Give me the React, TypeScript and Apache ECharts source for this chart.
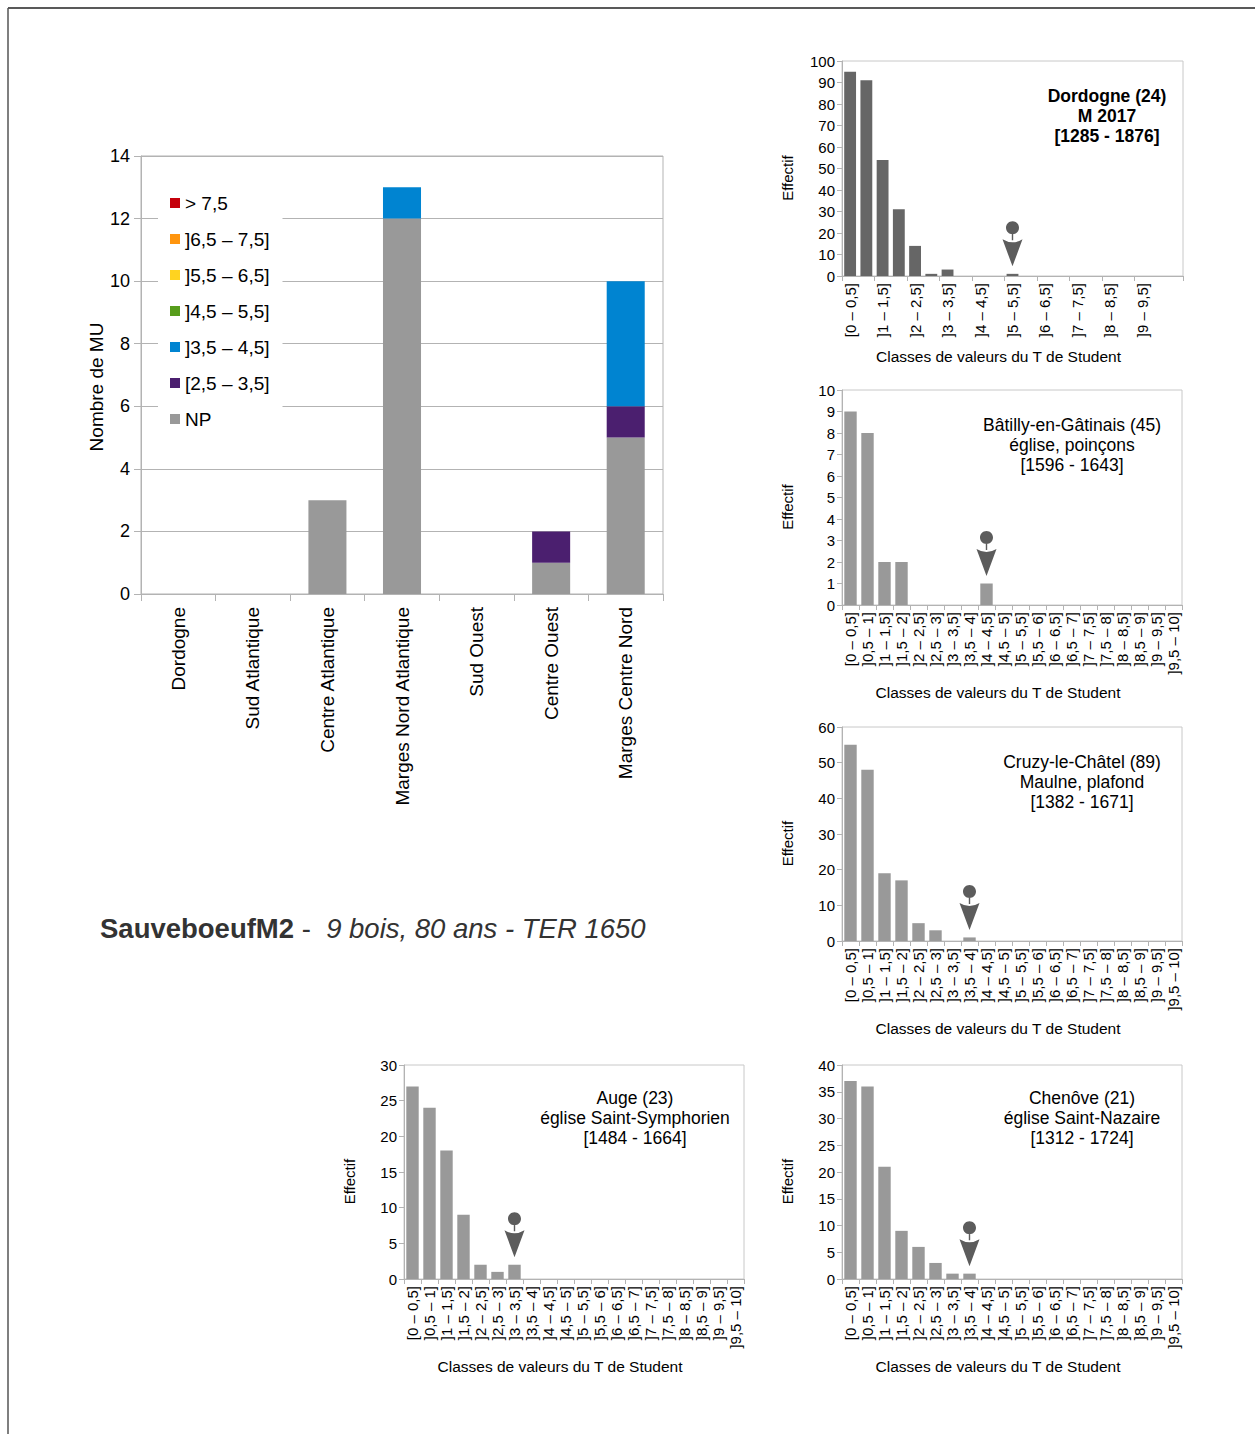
import React, { useEffect, useRef } from "react";
import * as echarts from "echarts";

const FONT = '"Liberation Sans", Arial, Helvetica, sans-serif';

// ---- Main chart data ----
const regions = [
  "Dordogne",
  "Sud Atlantique",
  "Centre Atlantique",
  "Marges Nord Atlantique",
  "Sud Ouest",
  "Centre Ouest",
  "Marges Centre Nord",
];
const seriesNames = ["NP", "[2,5 – 3,5]", "]3,5 – 4,5]", "]4,5 – 5,5]", "]5,5 – 6,5]", "]6,5 – 7,5]", "> 7,5"];
const seriesColors = ["#999999", "#4b1f6f", "#0084d1", "#579d1c", "#ffd320", "#ff950e", "#c5000b"];
const npValues = [0, 0, 3, 12, 0, 1, 5];
const c25Values = [0, 0, 0, 0, 0, 1, 1];
const c35Values = [0, 0, 0, 1, 0, 0, 4];
const c45Values = [0, 0, 0, 0, 0, 0, 0];
const c55Values = [0, 0, 0, 0, 0, 0, 0];
const c65Values = [0, 0, 0, 0, 0, 0, 0];
const c75Values = [0, 0, 0, 0, 0, 0, 0];
const mainValues = [npValues, c25Values, c35Values, c45Values, c55Values, c65Values, c75Values];

// ---- Small charts data ----
const halfClasses = [
  "[0 – 0,5]", "]0,5 – 1]", "]1 – 1,5]", "]1,5 – 2]", "]2 – 2,5]", "]2,5 – 3]", "]3 – 3,5]", "]3,5 – 4]",
  "]4 – 4,5]", "]4,5 – 5]", "]5 – 5,5]", "]5,5 – 6]", "]6 – 6,5]", "]6,5 – 7]", "]7 – 7,5]", "]7,5 – 8]",
  "]8 – 8,5]", "]8,5 – 9]", "]9 – 9,5]", "]9,5 – 10]",
];
const dordogneClasses = [...halfClasses, "> 10"];
const dordogneValues = [95, 91, 54, 31, 14, 1, 3, 0, 0, 0, 1, 0, 0, 0, 0, 0, 0, 0, 0, 0, 0];
const batillyValues = [9, 8, 2, 2, 0, 0, 0, 0, 1, 0, 0, 0, 0, 0, 0, 0, 0, 0, 0, 0];
const cruzyValues = [55, 48, 19, 17, 5, 3, 0, 1, 0, 0, 0, 0, 0, 0, 0, 0, 0, 0, 0, 0];
const augeValues = [27, 24, 18, 9, 2, 1, 2, 0, 0, 0, 0, 0, 0, 0, 0, 0, 0, 0, 0, 0];
const chenoveValues = [37, 36, 21, 9, 6, 3, 1, 1, 0, 0, 0, 0, 0, 0, 0, 0, 0, 0, 0, 0];
const markedClass = { dordogne: 10, batilly: 8, cruzy: 7, auge: 6, chenove: 7 };
const dordogneTitle = ["Dordogne (24)", "M 2017", "[1285 - 1876]"];
const batillyTitle = ["Bâtilly-en-Gâtinais (45)", "église, poinçons", "[1596 - 1643]"];
const cruzyTitle = ["Cruzy-le-Châtel (89)", "Maulne, plafond", "[1382 - 1671]"];
const augeTitle = ["Auge (23)", "église Saint-Symphorien", "[1484 - 1664]"];
const chenoveTitle = ["Chenôve (21)", "église Saint-Nazaire", "[1312 - 1724]"];

const PIN =
  "path://M3.5 6.5C3.5 2.9 6.4 0 10 0C13.6 0 16.5 2.9 16.5 6.5C16.5 10.1 13.6 13 10 13C6.4 13 3.5 10.1 3.5 6.5Z" +
  "M9.3 12h1.4v7h-1.4Z" +
  "M0 18Q10 24 20 18L10 45Z";

type Small = {
  grid: { left: number; top: number; width: number; height: number };
  cats: string[];
  values: number[];
  mark: number;
  color: string;
  max: number;
  interval: number;
  nameGap: number;
  labelEvery2?: boolean;
  title: string[];
  titleX: number;
  titleY: number;
  bold?: boolean;
};

export default function App() {
  const ref = useRef<HTMLDivElement>(null);
  useEffect(() => {
    if (!ref.current) return;
    const chart = echarts.init(ref.current, undefined, { renderer: "svg" });

    const smalls: Small[] = [
      { grid: { left: 842, top: 61, width: 341, height: 215 }, cats: dordogneClasses, values: dordogneValues, mark: markedClass.dordogne, color: "#666666", max: 100, interval: 10, nameGap: 72, labelEvery2: true, title: dordogneTitle, titleX: 1107, titleY: 86, bold: true },
      { grid: { left: 842, top: 390, width: 340, height: 215 }, cats: halfClasses, values: batillyValues, mark: markedClass.batilly, color: "#999999", max: 10, interval: 1, nameGap: 79, title: batillyTitle, titleX: 1072, titleY: 415 },
      { grid: { left: 842, top: 727, width: 340, height: 214 }, cats: halfClasses, values: cruzyValues, mark: markedClass.cruzy, color: "#999999", max: 60, interval: 10, nameGap: 79, title: cruzyTitle, titleX: 1082, titleY: 752 },
      { grid: { left: 404, top: 1065, width: 340, height: 214 }, cats: halfClasses, values: augeValues, mark: markedClass.auge, color: "#999999", max: 30, interval: 5, nameGap: 79, title: augeTitle, titleX: 635, titleY: 1088 },
      { grid: { left: 842, top: 1065, width: 340, height: 214 }, cats: halfClasses, values: chenoveValues, mark: markedClass.chenove, color: "#999999", max: 40, interval: 5, nameGap: 79, title: chenoveTitle, titleX: 1082, titleY: 1088 },
    ];

    const axisGrey = "#b3b3b3";

    const grids: any[] = [
      { left: 141, top: 156, width: 522, height: 438, show: true, borderColor: axisGrey, borderWidth: 1, backgroundColor: "transparent", containLabel: false },
      ...smalls.map((s) => ({ ...s.grid, show: true, borderColor: "#c8c8c8", borderWidth: 1, containLabel: false })),
    ];

    const xAxes: any[] = [
      {
        type: "category",
        gridIndex: 0,
        data: regions,
        axisLine: { lineStyle: { color: axisGrey } },
        axisTick: { show: true, length: 7, lineStyle: { color: axisGrey } },
        axisLabel: { rotate: 90, fontSize: 19, color: "#000", fontFamily: FONT, margin: 13, interval: 0 },
      },
      ...smalls.map((s, i) => ({
        type: "category",
        gridIndex: i + 1,
        data: s.cats,
        axisLine: { lineStyle: { color: axisGrey } },
        axisTick: { show: true, length: 5, lineStyle: { color: axisGrey } },
        axisLabel: {
          rotate: 90,
          fontSize: 15,
          color: "#000",
          fontFamily: FONT,
          margin: 7,
          interval: s.labelEvery2 ? (idx: number) => idx % 2 === 0 && idx < 20 : 0,
        },
        name: "Classes de valeurs du T de Student",
        nameLocation: "middle",
        nameGap: s.nameGap,
        nameTextStyle: { fontSize: 15.5, color: "#000", fontFamily: FONT, padding: [0, 28, 0, 0] },
      })),
    ];

    const yAxes: any[] = [
      {
        type: "value",
        gridIndex: 0,
        min: 0,
        max: 14,
        interval: 2,
        axisLine: { show: true, lineStyle: { color: axisGrey } },
        axisTick: { show: true, length: 7, lineStyle: { color: axisGrey } },
        splitLine: { show: true, lineStyle: { color: axisGrey } },
        axisLabel: { fontSize: 18, color: "#000", fontFamily: FONT, margin: 11 },
        name: "Nombre de MU",
        nameLocation: "middle",
        nameGap: 35,
        nameTextStyle: { fontSize: 19, color: "#000", fontFamily: FONT, padding: [0, 24, 0, 0] },
      },
      ...smalls.map((s, i) => ({
        type: "value",
        gridIndex: i + 1,
        min: 0,
        max: s.max,
        interval: s.interval,
        axisLine: { show: true, lineStyle: { color: axisGrey } },
        axisTick: { show: true, length: 5, lineStyle: { color: axisGrey } },
        splitLine: { show: false },
        axisLabel: { fontSize: 15, color: "#000", fontFamily: FONT, margin: 7 },
        name: "Effectif",
        nameLocation: "middle",
        nameGap: 47,
        nameTextStyle: { fontSize: 15, color: "#000", fontFamily: FONT, padding: [0, 19, 0, 0] },
      })),
    ];

    const series: any[] = [
      ...seriesNames.map((name, k) => ({
        type: "bar",
        name,
        xAxisIndex: 0,
        yAxisIndex: 0,
        stack: "main",
        barCategoryGap: "49%",
        itemStyle: { color: seriesColors[k] },
        data: mainValues[k],
      })),
    ];
    smalls.forEach((s, i) => {
      series.push({
        type: "bar",
        name: "small" + i,
        xAxisIndex: i + 1,
        yAxisIndex: i + 1,
        barCategoryGap: "27%",
        itemStyle: { color: s.color },
        data: s.values,
      });
      series.push({
        type: "scatter",
        name: "pin" + i,
        xAxisIndex: i + 1,
        yAxisIndex: i + 1,
        symbol: PIN,
        symbolSize: [20, 45],
        symbolOffset: [0, -30],
        itemStyle: { color: "#333333" },
        z: 5,
        data: [[s.mark, s.values[s.mark]]],
      });
    });

    const graphic: any[] = [
      { type: "line", shape: { x1: 8, y1: 8, x2: 1255, y2: 8 }, style: { stroke: "#222", lineWidth: 1.5 } },
      { type: "line", shape: { x1: 8, y1: 8, x2: 8, y2: 1434 }, style: { stroke: "#555", lineWidth: 1.5 } },
      {
        type: "text",
        x: 100,
        y: 928,
        style: {
          text: "{b|SauveboeufM2} {n|-  }{i|9 bois, 80 ans - TER 1650}",
          fontFamily: FONT,
          fontSize: 27.5,
          fill: "#333",
          verticalAlign: "middle",
          textVerticalAlign: "middle",
          rich: {
            b: { fontWeight: "bold", fontSize: 27.5, fontFamily: FONT, fill: "#333", color: "#333" },
            n: { fontSize: 27.5, fontFamily: FONT, fill: "#333", color: "#333" },
            i: { fontStyle: "italic", fontSize: 27.5, fontFamily: FONT, fill: "#333", color: "#333" },
          },
        },
      },
      ...smalls.map((s) => ({
        type: "text",
        x: s.titleX,
        y: s.titleY,
        z: 10,
        style: {
          text: s.title.join("\n"),
          fontFamily: FONT,
          fontSize: 17.5,
          fontWeight: s.bold ? "bold" : "normal",
          lineHeight: 20,
          fill: "#000",
          align: "center",
          textAlign: "center",
          verticalAlign: "top",
          textVerticalAlign: "top",
        },
      })),
    ];

    chart.setOption({
      animation: false,
      backgroundColor: "#ffffff",
      textStyle: { fontFamily: FONT },
      grid: grids,
      xAxis: xAxes,
      yAxis: yAxes,
      legend: {
        data: [...seriesNames].reverse(),
        orient: "vertical",
        left: 158,
        top: 186,
        padding: [7, 13, 7, 12],
        backgroundColor: "#ffffff",
        itemWidth: 10,
        itemHeight: 10,
        itemGap: 16,
        icon: "rect",
        selectedMode: false,
        textStyle: { fontSize: 19, color: "#000", fontFamily: FONT, lineHeight: 20 },
      },
      series,
      graphic,
    });

    return () => chart.dispose();
  }, []);

  return (
    <div
      ref={ref}
      style={{ position: "absolute", left: 0, top: 0, width: 1255, height: 1434, background: "#fff" }}
    />
  );
}
